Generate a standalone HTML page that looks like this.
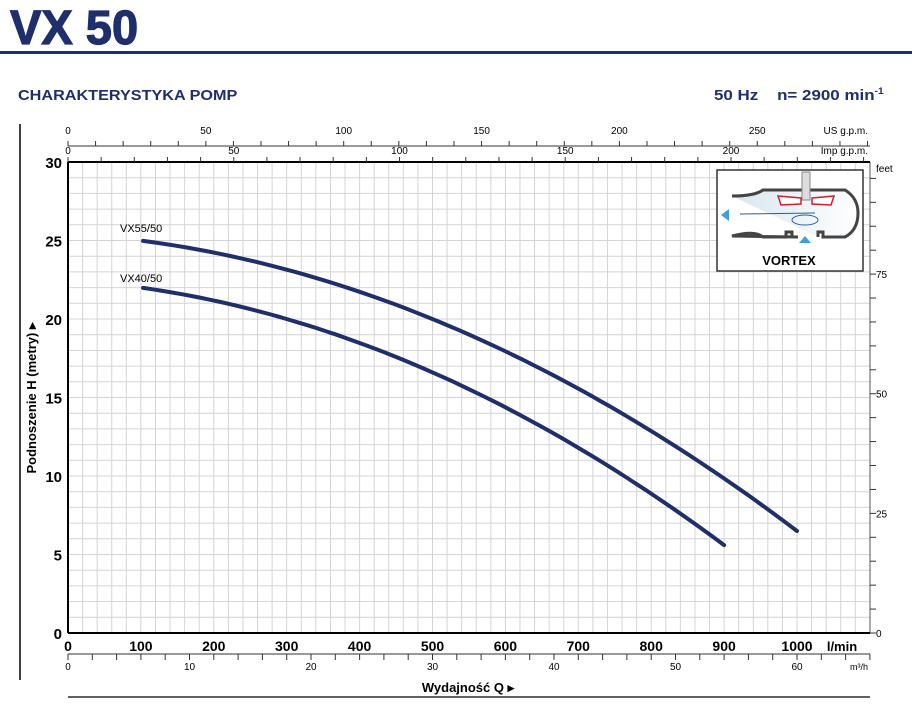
<!DOCTYPE html>
<html><head><meta charset="utf-8"><style>
html,body{margin:0;padding:0;background:#fff;width:912px;height:711px;overflow:hidden}
svg{display:block;font-family:"Liberation Sans",sans-serif}
</style></head><body>
<svg id="s" width="912" height="711" viewBox="0 0 912 711" xmlns="http://www.w3.org/2000/svg">
<text x="10" y="44" font-size="48" font-weight="bold" fill="#1f2f6b" stroke="#1f2f6b" stroke-width="1.2" transform="translate(10 0) scale(0.98 1) translate(-10 0)">VX 50</text>
<rect x="0" y="51" width="912" height="3" fill="#1f2f6b"/>
<text x="18" y="100" font-size="15" font-weight="bold" fill="#1f2f6b" transform="translate(18 0) scale(1.08 1) translate(-18 0)">CHARAKTERYSTYKA POMP</text>
<text x="714" y="100" font-size="15" font-weight="bold" fill="#1f2f6b" transform="translate(714 0) scale(1.13 1) translate(-714 0)">50 Hz&#160;&#160;&#160;&#160;n= 2900 min<tspan font-size="9" dy="-6">-1</tspan></text>
<line x1="20" y1="124" x2="20" y2="680" stroke="#000" stroke-width="1.5"/>
<line x1="68" y1="697" x2="870" y2="697" stroke="#000" stroke-width="1.2"/>
<g id="g"></g>
</svg>
<script>
var g=document.getElementById('g'),h='';
var X0=68,X1=870,Y0=633,Y1=162,px=0.729,py=15.7;
function L(a,b,c,d,col,w){h+='<line x1="'+a+'" y1="'+b+'" x2="'+c+'" y2="'+d+'" stroke="'+col+'" stroke-width="'+w+'"/>';}
function T(x,y,t,s,a,b){h+='<text x="'+x+'" y="'+y+'" font-size="'+s+'" text-anchor="'+(a||'middle')+'"'+(b?' font-weight="bold"':'')+'>'+t+'</text>';}
for(var q=20;q<1100;q+=20){var x=X0+q*px;L(x,Y1,x,Y0,'#d4d4d4',1);}
for(var m=1;m<30;m++){var y=Y0-m*py;L(X0,y,X1,y,'#d4d4d4',1);}
L(X1,Y1,X1,Y0,'#555',1);
L(X0,Y1,X1,Y1,'#000',2);L(X0,Y0,X1,Y0,'#000',2);L(X0,Y1,X0,Y0,'#000',2);
for(var m=0;m<=30;m+=5)T(62,Y0-m*py+6,m,15,'end',1);
for(var q=0;q<=1000;q+=100)T(X0+q*px,Y0+18,q,14,'middle',1);
T(842,Y0+18,'l/min',13,'middle',1);
L(X0,146,X1,146,'#333',1);
for(var u=0;u*2.757<=X1-X0;u+=10){var x=X0+u*2.757;L(x,141,x,146,'#333',1);if(u%50==0)T(x,134,u,10);}
T(868,134,'US g.p.m.',10,'end');
for(var u=0;u*3.315<=X1-X0;u+=10){var x=X0+u*3.315;L(x,157,x,Y1,'#333',1);if(u%50==0)T(x,154,u,10);}
T(868,154,'Imp g.p.m.',10,'end');
L(X0,654,X1,654,'#333',1);
for(var u=0;u*12.15<=X1-X0;u+=2){var x=X0+u*12.15;L(x,654,x,660,'#333',1);if(u%10==0)T(x,670,u,10);}
T(868,670,'m³/h',9,'end');
for(var f=0;f*0.3048*py<=Y0-Y1;f+=5){var y=Y0-f*0.3048*py;L(X1,y,X1+6,y,'#333',1);if(f%25==0)T(876,y+4,f,10,'start');}
T(876,172,'feet',10,'start');
h+='<text transform="translate(36 398) rotate(-90)" font-size="13" font-weight="bold" text-anchor="middle">Podnoszenie H (metry) ▸</text>';
T(468,692,'Wydajność Q ▸',13,'middle',1);
function C(c0,c1,c2,q1){var d='';for(var q=103;q<=q1+0.1;q+=(q1-103)/60){var H=c0+c1*q+c2*q*q;d+=(d?'L':'M')+(X0+q*px).toFixed(1)+' '+(Y0-H*py).toFixed(1);}h+='<path d="'+d+'" fill="none" stroke="#1f2f6b" stroke-width="4" stroke-linecap="round"/>';}
C(25.44,-0.00283,-1.611e-5,1000);
C(22.475,-0.003,-1.75e-5,900);
T(120,232,'VX55/50',11,'start');T(120,282,'VX40/50',11,'start');
h+='<rect x="717" y="170" width="146" height="101" fill="#fff" stroke="#333" stroke-width="1.5"/>';
h+='<defs><linearGradient id="lg" x1="0" x2="1"><stop offset="0" stop-color="#d8e6ef"/><stop offset="1" stop-color="#fff"/></linearGradient></defs>';
h+='<path d="M732 196 Q755 196 763 190 L845 190 Q858 198 858 213 Q858 230 845 237 L823 237 L823 232 L818 232 L818 237 M798 237 L792 237 L792 232 L786 232 L786 237 L763 237 Q755 230 732 236 Z" fill="url(#lg)" stroke="#444" stroke-width="3"/>';
h+='<rect x="802" y="172" width="8" height="28" fill="#ddd" stroke="#888"/>';
h+='<path d="M778 196 L801 198 L801 204 L781 205 Z M812 198 L834 196 L831 205 L812 204 Z" fill="#fff" stroke="#d02030" stroke-width="1.5"/>';
h+='<line x1="740" y1="214" x2="815" y2="213" stroke="#2d5aa0" stroke-width="1"/><ellipse cx="805" cy="220" rx="13" ry="5" fill="none" stroke="#2d5aa0"/>';
h+='<path d="M721 215 L729 209 L729 221 Z" fill="#3ba0e0"/><path d="M805 236 L799 243 L811 243 Z" fill="#3ba0e0"/>';
T(789,265,'VORTEX',13,'middle',1);
g.innerHTML=h;
</script>
</body></html>
